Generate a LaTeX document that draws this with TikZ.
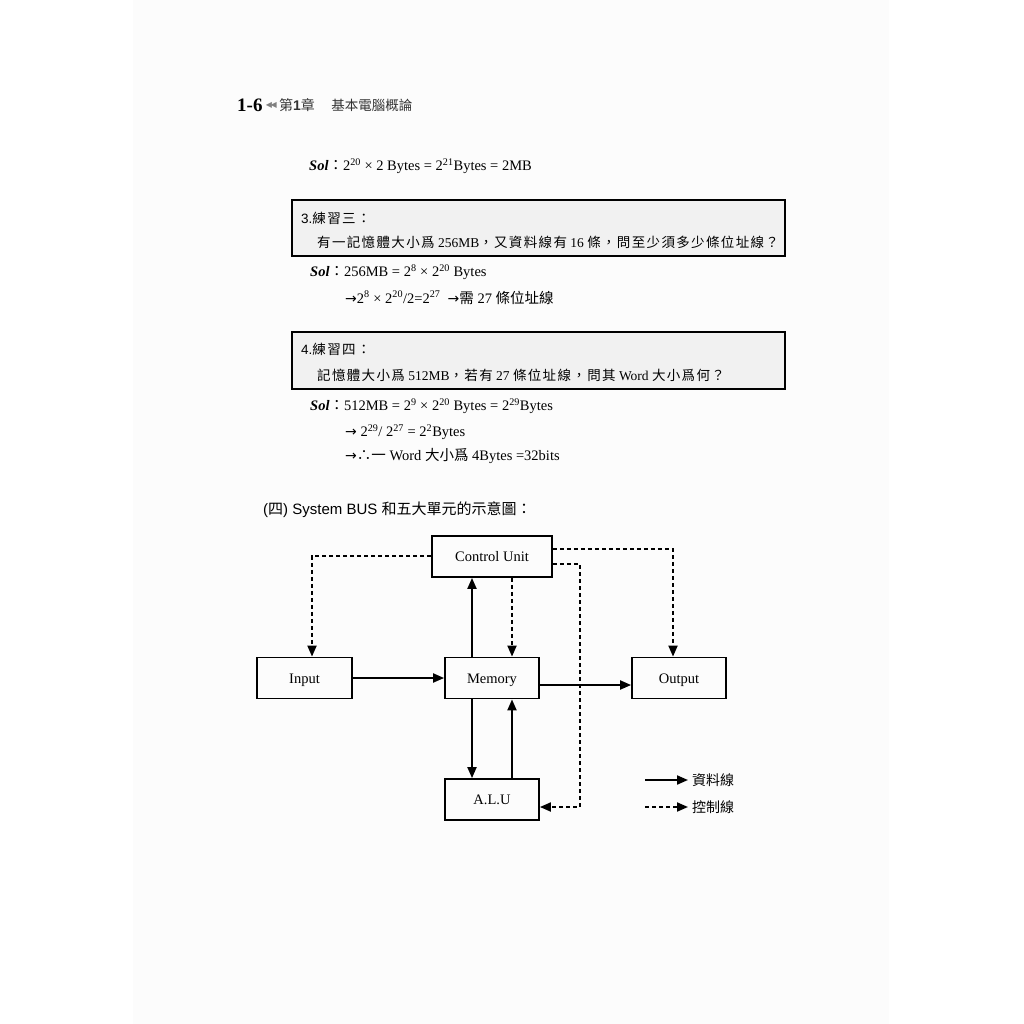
\documentclass[tikz,border=0pt]{standalone}
\usepackage{fontspec}
\setmainfont{Liberation Serif}
\newfontfamily\sansf{Liberation Sans}
\newfontfamily\cjk{Noto Sans CJK TC}
\newfontfamily\cjkw[LetterSpace=10]{Noto Sans CJK TC}
\newfontfamily\symf{DejaVu Sans}
\usetikzlibrary{arrows.meta,positioning,calc}

\definecolor{pagetone}{HTML}{FCFCFC}
\definecolor{boxtone}{HTML}{F1F1F1}
\newcommand{\sol}{\textbf{\textit{Sol}}{\cjk：}}
\newcommand{\up}[1]{\textsuperscript{#1}}
\newcommand{\rarr}{{\symf\fontsize{14}{16}\selectfont →}}

\begin{document}
\begin{tikzpicture}[x=1pt,y=-1pt,
    unit/.style={rectangle,draw,line width=1.8pt,minimum height=41pt,text height=11pt,text depth=0.4pt,font=\fontsize{14.5}{16}\selectfont,inner sep=0pt},
    txt/.style={anchor=west,inner sep=0pt,font=\fontsize{14.5}{16}\selectfont},
    qtxt/.style={anchor=west,inner sep=0pt,font=\fontsize{13.5}{15}\selectfont},
    qbox/.style={draw,line width=1.3pt,fill=boxtone},
    data/.style={-{Triangle[length=11pt,width=9pt]},line width=2pt},
    ctl/.style={-{Triangle[length=11pt,width=9pt]},line width=1.9pt,dash pattern=on 4pt off 3pt}
]
    % page
    \useasboundingbox (0,0) rectangle (1024,1024);
    \fill[pagetone] (133,0) rectangle (889,1024);

    % Heading
    \node[txt,font=\bfseries\fontsize{19}{20}\selectfont] (pnum) at (237,105.5) {1-6};
    \node[txt,right=3pt of pnum,text=black!50,font=\symf\fontsize{8}{9}\selectfont] (marks) {◀\kern-1.5pt◀};
    \node[txt,right=2pt of marks,text=black!80,font=\cjk\fontsize{14}{15}\selectfont] (chap) {第{\sansf\textbf{1}}章};
    \node[txt,right=16pt of chap,text=black!80,font=\cjk\fontsize{13.5}{15}\selectfont] (title) {基本電腦概論};

    % Answer to previous exercise
    \node[txt] (sol2) at (309,166) {\sol 2\up{20} × 2 Bytes = 2\up{21}Bytes = 2MB};

    % Exercise 3
    \draw[qbox] (292,200) rectangle (785,256);
    \node[qtxt] (q3) at (301,218) {{\sansf 3.}{\cjkw 練習三：}};
    \node[qtxt] (q3b) at (317,242) {{\cjkw 有一記憶體大小爲} 256MB{\cjkw ，又資料線有} 16 {\cjkw 條，問至少須多少條位址線？}};
    \node[txt] (sol3) at (310,272) {\sol 256MB = 2\up{8} × 2\up{20} Bytes};
    \node[txt] (sol3b) at (345,297.5) {\rarr2\up{8} × 2\up{20}/2=2\up{27}\ \ \rarr{\cjk 需} 27 {\cjk 條位址線}};

    % Exercise 4
    \draw[qbox] (292,332) rectangle (785,389);
    \node[qtxt] (q4) at (301,349) {{\sansf 4.}{\cjkw 練習四：}};
    \node[qtxt] (q4b) at (317,375) {{\cjkw 記憶體大小爲} 512MB{\cjkw ，若有} 27 {\cjkw 條位址線，問其} Word {\cjkw 大小爲何？}};
    \node[txt] (sol4) at (310,406) {\sol 512MB = 2\up{9} × 2\up{20} Bytes = 2\up{29}Bytes};
    \node[txt] (sol4b) at (345,432) {\rarr\ 2\up{29}/ 2\up{27} = 2\up{2}Bytes};
    \node[txt] (sol4c) at (345,456) {\rarr{\cjk ∴一} Word {\cjk 大小爲} 4Bytes =32bits};

    % System BUS figure
    \node[txt,font=\fontsize{15}{16}\selectfont] (figtitle) at (263,510) {{\sansf (}{\cjk 四}{\sansf ) System BUS }{\cjk 和五大單元的示意圖：}};

    \node[unit,minimum width=120pt] (cu) at (492,556.5) {Control Unit};
    \node[unit,minimum width=95pt] (input) at (304.5,678) {Input};
    \node[unit,minimum width=94pt] (mem) at (492,678) {Memory};
    \node[unit,minimum width=94pt] (output) at (679,678) {Output};
    \node[unit,minimum width=94pt] (alu) at (492,799.5) {A.L.U};

    % data lines
    \draw[data] (input) -- (mem);
    \draw[data] ([yshift=-7pt]mem.east) -- ([yshift=-7pt]output.west);
    \draw[data] ([xshift=-20pt]mem.north) -- ([xshift=-20pt]cu.south);
    \draw[data] ([xshift=-20pt]mem.south) -- ([xshift=-20pt]alu.north);
    \draw[data] ([xshift=20pt]alu.north) -- ([xshift=20pt]mem.south);

    % control lines
    \draw[ctl] ([yshift=0.5pt]cu.west) -| ([xshift=7.5pt]input.north);
    \draw[ctl] ([yshift=7.5pt]cu.east) -| ([xshift=-6pt]output.north);
    \draw[ctl] ([xshift=20pt]cu.south) -- ([xshift=20pt]mem.north);
    \coordinate (aluin) at ([yshift=-7.5pt]alu.east);
    \draw[ctl] ([yshift=-7.5pt]cu.east) -- ++(27,0) |- (aluin);

    % legend
    \coordinate (ldata) at (645,780);
    \coordinate (lctl) at (645,807);
    \node[txt,font=\cjk\fontsize{14}{15}\selectfont] (ldatatext) at (692,780) {資料線};
    \node[txt,font=\cjk\fontsize{14}{15}\selectfont] (lctltext) at (692,807) {控制線};
    \draw[data] (ldata) -- ([xshift=-4pt]ldatatext.west);
    \draw[ctl] (lctl) -- ([xshift=-4pt]lctltext.west);
\end{tikzpicture}
\end{document}
